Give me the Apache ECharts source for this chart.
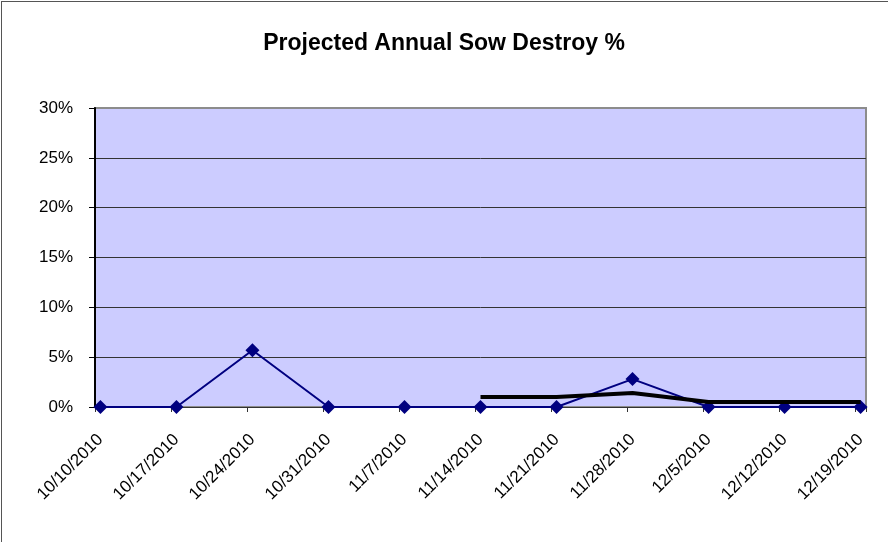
<!DOCTYPE html>
<html>
<head>
<meta charset="utf-8">
<script src="https://cdn.jsdelivr.net/npm/echarts@6/dist/echarts.min.js"></script>
<style>
  html, body { margin: 0; padding: 0; background: #fff; }
  #wrap { position: relative; width: 888px; height: 542px; }
  #chart { position: absolute; left: 0; top: 0; width: 888px; height: 542px; }
  #frame { position: absolute; left: 1px; top: 1px; width: 900px; height: 600px;
           border-left: 1px solid #555; border-top: 1px solid #555; pointer-events: none; }
</style>
</head>
<body>
<div id="wrap"><div id="chart"></div><div id="frame"></div></div>
<script>
// ---- data ----
const chartTitle = 'Projected Annual Sow Destroy %';
const dates = ['10/10/2010', '10/17/2010', '10/24/2010', '10/31/2010', '11/7/2010', '11/14/2010',
               '11/21/2010', '11/28/2010', '12/5/2010', '12/12/2010', '12/19/2010'];
const destroyPct = [0, 0, 0.057, 0, 0, 0, 0, 0.028, 0, 0, 0];
const projectedPct = [null, null, null, null, null, 0.010, 0.010, 0.014, 0.005, 0.005, 0.005];
const yTicks = [0, 0.05, 0.10, 0.15, 0.20, 0.25, 0.30];

// ---- build ----
const t0 = new Date(dates[0]).getTime();
const dayOf = d => Math.round((new Date(d).getTime() - t0) / 86400000);
const days = dates.map(dayOf);
const lastDay = days[days.length - 1];
const tickVals = days.map(d => d - 0.5).concat([lastDay + 0.5]);

const chart = echarts.init(document.getElementById('chart'), null, { renderer: 'canvas' });
chart.setOption({
  animation: false,
  backgroundColor: '#ffffff',
  title: {
    text: chartTitle,
    left: 'center',
    top: 27,
    textStyle: { fontFamily: 'Liberation Sans, Arial', fontWeight: 'bold', fontSize: 23, color: '#000' }
  },
  grid: {
    left: 95, right: 22, top: 108, bottom: 135,
    show: true, backgroundColor: '#ccccff', borderColor: '#8c8c8c', borderWidth: 2
  },
  xAxis: {
    type: 'value',
    min: -0.5,
    max: lastDay + 0.5,
    axisLine: { show: true, onZero: false, lineStyle: { color: '#333', width: 1 } },
    axisTick: { show: true, length: 5, customValues: tickVals, lineStyle: { color: '#333' } },
    splitLine: { show: false },
    axisLabel: {
      customValues: days,
      rotate: 45,
      margin: 30,
      fontFamily: 'Liberation Sans, Arial',
      fontSize: 17,
      color: '#000',
      formatter: v => { const i = days.indexOf(Math.round(v)); return i >= 0 ? dates[i] : ''; }
    }
  },
  yAxis: {
    type: 'value',
    min: 0,
    max: 0.3,
    interval: 0.05,
    axisLine: { show: true, onZero: false, lineStyle: { color: '#000', width: 2 } },
    axisTick: { show: true, length: 6, lineStyle: { color: '#000' } },
    splitLine: { show: true, showMinLine: false, showMaxLine: false, lineStyle: { color: '#333', width: 1 } },
    axisLabel: {
      margin: 22,
      fontFamily: 'Liberation Sans, Arial',
      fontSize: 17,
      color: '#000',
      formatter: v => Math.round(v * 100) + '%'
    }
  },
  series: [
    {
      name: 'Destroy %',
      type: 'line',
      data: days.map((d, i) => [d, destroyPct[i]]),
      symbol: 'diamond',
      symbolSize: 14,
      lineStyle: { color: '#000080', width: 2 },
      itemStyle: { color: '#000080' },
      z: 3
    },
    {
      name: 'Projected',
      type: 'line',
      data: days.map((d, i) => [d, projectedPct[i]]),
      symbol: 'none',
      lineStyle: { color: '#000', width: 4 },
      z: 4
    }
  ]
});
</script>
</body>
</html>
